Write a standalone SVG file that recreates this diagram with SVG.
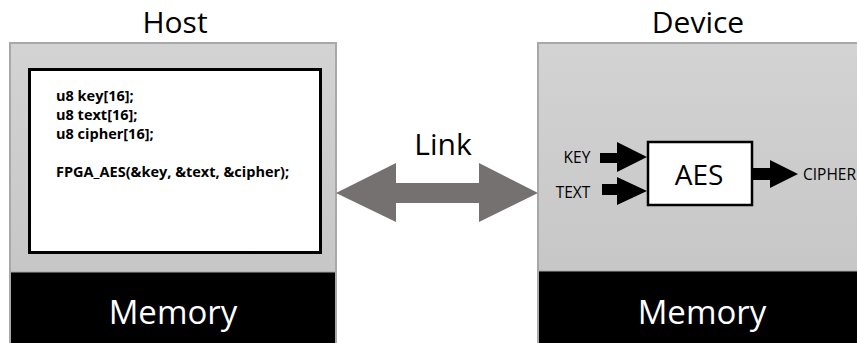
<svg xmlns="http://www.w3.org/2000/svg" width="857" height="343" viewBox="0 0 857 343">
<defs>
<linearGradient id="panelGrad" x1="0" y1="0" x2="0" y2="1">
<stop offset="0" stop-color="#d3d3d3"/>
<stop offset="1" stop-color="#c3c3c3"/>
</linearGradient>
</defs>
<style>
.panel{fill:url(#panelGrad);stroke:#a8a8a8;stroke-width:2}
.mem{fill:#000;stroke:#a8a8a8;stroke-width:1}
.title{font-family:"Open Sans","Liberation Sans",sans-serif;font-size:30px;fill:#000;text-anchor:middle}
.memtxt{font-family:"Open Sans","Liberation Sans",sans-serif;font-size:33px;fill:#fff;text-anchor:middle}
.code{font-family:"Open Sans","Liberation Sans",sans-serif;font-size:14.5px;font-weight:bold;fill:#000}
.lbl{font-family:"Open Sans","Liberation Sans",sans-serif;font-size:15.5px;fill:#000}
.blk{fill:#000}
</style>
<rect width="857" height="343" fill="#fff"/>
<g id="host">
<rect class="panel" x="10" y="43" width="326" height="300"/>
<text class="title" x="175" y="33">Host</text>
<g id="host-code">
<rect x="29.5" y="69.5" width="291" height="183" fill="#fff" stroke="#000" stroke-width="3"/>
<text class="code" x="56" y="101">u8 key[16];</text>
<text class="code" x="56" y="120">u8 text[16];</text>
<text class="code" x="56" y="139">u8 cipher[16];</text>
<text class="code" x="56" y="177">FPGA_AES(&amp;key, &amp;text, &amp;cipher);</text>
</g>
</g>
<g id="host-memory">
<rect class="mem" x="10.5" y="272" width="325" height="72"/>
<text class="memtxt" x="173" y="324">Memory</text>
</g>
<g id="device">
<rect class="panel" x="538" y="43" width="322" height="300"/>
<text class="title" x="698" y="33">Device</text>
</g>
<g id="aes">
<rect x="648" y="142" width="104" height="63" fill="#fff" stroke="#000" stroke-width="2.5"/>
<text x="699" y="185" font-family="Open Sans,Liberation Sans,sans-serif" font-size="28" text-anchor="middle" fill="#000">AES</text>
</g>
<g id="device-memory">
<rect class="mem" x="538.5" y="271" width="320" height="73"/>
<text class="memtxt" x="702" y="324">Memory</text>
</g>
<g id="link-label">
<text class="title" x="443" y="155" font-size="32">Link</text>
</g>
<g id="connectors">
<polygon points="336,193 396,163 396,183 479,183 479,163 538,193 479,222 479,203 396,203 396,222" fill="#767171"/>
<text class="lbl" x="577" y="163" text-anchor="middle">KEY</text>
<polygon class="blk" points="600,153 617,153 617,142 647,157 617,172 617,163 600,163"/>
<text class="lbl" x="573" y="198" text-anchor="middle">TEXT</text>
<polygon class="blk" points="602,184 617,184 617,177 647,191 617,205 617,195 602,195"/>
<polygon class="blk" points="752,168 770,168 770,160 798,174 770,188 770,180 752,180"/>
<text class="lbl" x="803" y="180" font-size="12.5">CIPHER</text>
</g>
</svg>
